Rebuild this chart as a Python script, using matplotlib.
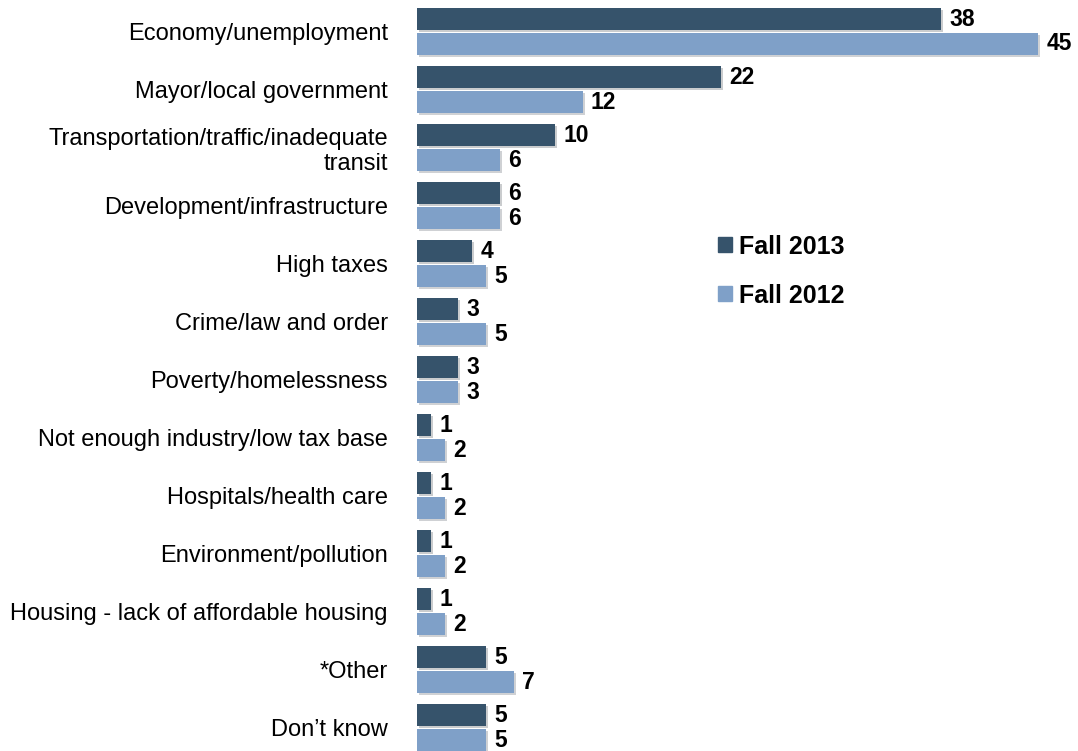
import matplotlib.pyplot as plt
import matplotlib.patheffects as pe
from matplotlib.patches import Patch

categories = [
    "Economy/unemployment",
    "Mayor/local government",
    "Transportation/traffic/inadequate\ntransit",
    "Development/infrastructure",
    "High taxes",
    "Crime/law and order",
    "Poverty/homelessness",
    "Not enough industry/low tax base",
    "Hospitals/health care",
    "Environment/pollution",
    "Housing - lack of affordable housing",
    "*Other",
    "Don\u2019t know",
]
fall_2013 = [38, 22, 10, 6, 4, 3, 3, 1, 1, 1, 1, 5, 5]
fall_2012 = [45, 12, 6, 6, 5, 5, 3, 2, 2, 2, 2, 7, 5]

DARK = "#36536b"
LIGHT = "#7fa0c8"

plt.rcParams['font.family'] = ['Liberation Sans', 'DejaVu Sans']

fig = plt.figure(figsize=(10.78, 7.51), dpi=100)
ax = fig.add_axes([417 / 1078, 0, 661 / 1078, 1])

h = 0.38
shadow = [pe.SimplePatchShadow(offset=(1.5, -1.5), alpha=0.22), pe.Normal()]
ys = list(range(len(categories)))

for i in ys:
    b1 = ax.barh(i - 0.215, fall_2013[i], height=h, color=DARK)
    b2 = ax.barh(i + 0.215, fall_2012[i], height=h, color=LIGHT)
    for b in list(b1) + list(b2):
        b.set_path_effects(shadow)
    ax.annotate(str(fall_2013[i]), (fall_2013[i], i - 0.215), xytext=(6, 0),
                textcoords="offset points", va="center", ha="left",
                fontsize=16.5, fontweight="bold")
    ax.annotate(str(fall_2012[i]), (fall_2012[i], i + 0.215), xytext=(6, 0),
                textcoords="offset points", va="center", ha="left",
                fontsize=16.5, fontweight="bold")

ax.set_yticks(ys)
ax.set_yticklabels(categories, fontsize=17, ha="right", linespacing=1.2)
ax.tick_params(axis="y", length=0, pad=21)
ax.set_xticks([])
ax.set_xlim(0, 47.9)
ax.set_ylim(12.4, -0.543)
for s in ax.spines.values():
    s.set_visible(False)

handles = [Patch(color=DARK, label="Fall 2013"), Patch(color=LIGHT, label="Fall 2012")]
ax.legend(handles=handles, loc="center left", bbox_to_anchor=(0.455, 0.639),
          frameon=False, prop={"size": 18, "weight": "bold"},
          handlelength=0.55, handleheight=0.55, handletextpad=0.3,
          labelspacing=1.0, borderpad=0, borderaxespad=0)

fig.savefig("out.png", dpi=100)
